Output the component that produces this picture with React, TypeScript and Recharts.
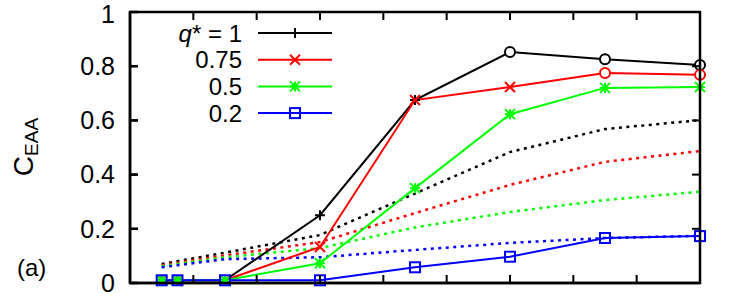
import React from 'react';
import { LineChart, Line, XAxis, YAxis } from 'recharts';

// measured C_EAA values
const xMeasured = [0.5, 0.75, 1.5, 3, 4.5, 6, 7.5, 9];
const cQ100 = [0.01, 0.01, 0.01, 0.25, 0.675, 0.852, 0.826, 0.804];
const cQ075 = [0.01, 0.01, 0.01, 0.133, 0.675, 0.723, 0.775, 0.768];
const cQ050 = [0.01, 0.01, 0.01, 0.073, 0.35, 0.623, 0.72, 0.723];
const cQ020 = [0.01, 0.01, 0.01, 0.01, 0.058, 0.097, 0.166, 0.173];

// dotted reference curves
const xTheory = [0.5, 1.5, 3, 4.5, 6, 7.5, 9];
const tQ100 = [0.07, 0.112, 0.177, 0.33, 0.483, 0.568, 0.601];
const tQ075 = [0.066, 0.102, 0.151, 0.258, 0.362, 0.447, 0.487];
const tQ050 = [0.062, 0.095, 0.129, 0.205, 0.262, 0.306, 0.337];
const tQ020 = [0.058, 0.088, 0.095, 0.122, 0.148, 0.166, 0.174];

const xTicks = [0, 1, 2, 3, 4, 5, 6, 7, 8, 9];
const yTicks = [0, 0.2, 0.4, 0.6, 0.8, 1];
const yTickLabels = ['0', '0.2', '0.4', '0.6', '0.8', '1'];

type MarkerKind = 'plus' | 'cross' | 'star' | 'square';

const FONT = '"Liberation Sans", Arial, sans-serif';
const FRAME = '#000000';

// plot box (matches the chart margins below)
const W = 747;
const H = 297;
const chartMargin = { top: 12, right: 47, bottom: 14, left: 0 };
const Y_AXIS_W = 130;
const box = {
  left: chartMargin.left + Y_AXIS_W,
  right: W - chartMargin.right,
  top: chartMargin.top,
  bottom: H - chartMargin.bottom,
};

const MarkerShape = ({ kind, cx, cy, color }: { kind: MarkerKind | 'circle'; cx: number; cy: number; color: string }) => {
  const s = 5;
  const sw = 2;
  if (kind === 'circle') {
    return <circle cx={cx} cy={cy} r={5} fill="#ffffff" stroke={color} strokeWidth={sw} />;
  }
  if (kind === 'square') {
    return <rect x={cx - s} y={cy - s} width={2 * s} height={2 * s} fill="none" stroke={color} strokeWidth={sw} />;
  }
  const plus = (
    <>
      <line x1={cx - s} y1={cy} x2={cx + s} y2={cy} stroke={color} strokeWidth={sw} />
      <line x1={cx} y1={cy - s} x2={cx} y2={cy + s} stroke={color} strokeWidth={sw} />
    </>
  );
  const cross = (
    <>
      <line x1={cx - s} y1={cy - s} x2={cx + s} y2={cy + s} stroke={color} strokeWidth={sw} />
      <line x1={cx - s} y1={cy + s} x2={cx + s} y2={cy - s} stroke={color} strokeWidth={sw} />
    </>
  );
  return (
    <g>
      {(kind === 'plus' || kind === 'star') && plus}
      {(kind === 'cross' || kind === 'star') && cross}
    </g>
  );
};

const makeDot = (kind: MarkerKind, color: string, openFrom: number) => (props: any) => {
  const { cx, cy, index } = props;
  if (cx == null || cy == null) return <g key={index} />;
  return (
    <g key={index}>
      <MarkerShape kind={index >= openFrom ? 'circle' : kind} cx={cx} cy={cy} color={color} />
    </g>
  );
};

// built once so the chart gets stable references
const series = [
  { key: 'q100', label: '1', color: '#000000', values: cQ100, theory: tQ100, marker: 'plus' as MarkerKind, openFrom: 5 },
  { key: 'q075', label: '0.75', color: '#ff0000', values: cQ075, theory: tQ075, marker: 'cross' as MarkerKind, openFrom: 6 },
  { key: 'q050', label: '0.5', color: '#00ff00', values: cQ050, theory: tQ050, marker: 'star' as MarkerKind, openFrom: 99 },
  { key: 'q020', label: '0.2', color: '#0000ff', values: cQ020, theory: tQ020, marker: 'square' as MarkerKind, openFrom: 99 },
].map((s) => ({
  ...s,
  measuredData: xMeasured.map((x, i) => ({ x, y: s.values[i] })),
  theoryData: xTheory.map((x, i) => ({ x, y: s.theory[i] })),
  dot: makeDot(s.marker, s.color, s.openFrom),
}));

const formatY = (v: number) => yTickLabels[yTicks.indexOf(v)] ?? String(v);
const yTickStyle = { fontSize: 25, fill: '#000000', fontFamily: FONT, stroke: 'none' };

// frame with inward ticks, legend, y label and panel tag drawn over the chart
const Overlay = () => {
  const px = (v: number) => box.left + ((box.right - box.left) * v) / 9;
  const py = (v: number) => box.bottom - (box.bottom - box.top) * v;
  const t = 8;
  return (
    <svg width={W} height={H} style={{ position: 'absolute', left: 0, top: 0, pointerEvents: 'none' }}>
      <g stroke={FRAME} strokeWidth={2}>
        {xTicks.map((v) => (
          <g key={'x' + v}>
            <line x1={px(v)} y1={box.bottom} x2={px(v)} y2={box.bottom - t} />
            <line x1={px(v)} y1={box.top} x2={px(v)} y2={box.top + t} />
          </g>
        ))}
        {yTicks.map((v) => (
          <g key={'y' + v}>
            <line x1={box.left} y1={py(v)} x2={box.left + t} y2={py(v)} />
            <line x1={box.right} y1={py(v)} x2={box.right - t} y2={py(v)} />
          </g>
        ))}
      </g>
      <rect x={box.left} y={box.top} width={box.right - box.left} height={box.bottom - box.top}
        fill="none" stroke={FRAME} strokeWidth={2.5} />
      <text x={33} y={147} transform="rotate(-90, 33, 147)" textAnchor="middle" fontFamily={FONT} fill="#000000" fontSize={28}>
        C<tspan fontSize={19} dy={5}>EAA</tspan>
      </text>
      <text x={17} y={276} fontFamily={FONT} fill="#000000" fontSize={24}>(a)</text>
      {series.map((s, i) => {
        const cy = 33 + i * 26.7;
        return (
          <g key={s.key}>
            <text x={242} y={cy + 8.5} textAnchor="end" fontSize={24} fontFamily={FONT} fill="#000000">
              {i === 0 ? (
                <>
                  <tspan fontStyle="italic">q</tspan>
                  <tspan>* = </tspan>
                  <tspan>{s.label}</tspan>
                </>
              ) : (
                s.label
              )}
            </text>
            <line x1={258} y1={cy} x2={332} y2={cy} stroke={s.color} strokeWidth={2} />
            <MarkerShape kind={s.marker} cx={295} cy={cy} color={s.color} />
          </g>
        );
      })}
    </svg>
  );
};

export default function App() {
  return (
    <div style={{ position: 'absolute', left: 0, top: 0, width: W, height: H, background: '#ffffff', fontFamily: FONT }}>
      <LineChart width={W} height={H} margin={chartMargin}>
        <XAxis xAxisId="bottom" type="number" dataKey="x" domain={[0, 9]} ticks={xTicks} orientation="bottom"
          mirror height={10} tick={false} tickLine tickSize={8} stroke={FRAME} strokeWidth={2.5} />
        <YAxis yAxisId="left" type="number" domain={[0, 1]} ticks={yTicks} width={Y_AXIS_W} orientation="left"
          tickSize={-8} tickMargin={23} tickLine stroke={FRAME} strokeWidth={2.5}
          tickFormatter={formatY} tick={yTickStyle} />
        {series.map((s) => (
          <Line
            key={s.key + '-theory'}
            xAxisId="bottom"
            yAxisId="left"
            data={s.theoryData}
            dataKey="y"
            type="linear"
            stroke={s.color}
            strokeWidth={2.5}
            strokeDasharray="3 4.5"
            dot={false}
            activeDot={false}
            isAnimationActive={false}
          />
        ))}
        {series.map((s) => (
          <Line
            key={s.key}
            xAxisId="bottom"
            yAxisId="left"
            data={s.measuredData}
            dataKey="y"
            type="linear"
            stroke={s.color}
            strokeWidth={2}
            dot={s.dot}
            activeDot={false}
            isAnimationActive={false}
          />
        ))}
      </LineChart>
      <Overlay />
    </div>
  );
}
